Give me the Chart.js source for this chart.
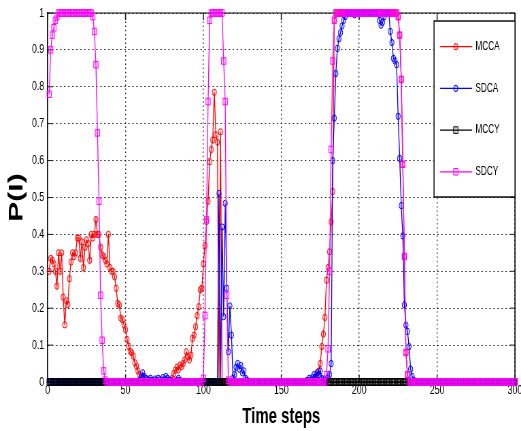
<!DOCTYPE html>
<html><head><meta charset="utf-8">
<script src="https://cdn.jsdelivr.net/npm/chart.js@4/dist/chart.umd.min.js"></script>
<style>
html,body{margin:0;padding:0;background:#fff;overflow:hidden;width:521px;height:431px;}
#wrap{position:absolute;left:0;top:0;width:766px;height:431px;transform:scaleX(0.6802);transform-origin:0 0;}
canvas{display:block}
</style></head><body>
<div id="wrap"><canvas id="c" width="766" height="431"></canvas></div>
<script>
// ---- data (time step t = 1..300) ----
const seriesNames = ['MCCA', 'SDCA', 'MCCY', 'SDCY'];
const xTickLabels = ['0', '50', '100', '150', '200', '250', '300'];
const yTickLabels = ['0', '0.1', '0.2', '0.3', '0.4', '0.5', '0.6', '0.7', '0.8', '0.9', '1'];
const timeSteps = Array.from({length: 300}, (_, i) => i + 1);

const mcca = [
0.30,0.335,0.33,0.32,0.30,0.26,0.35,0.30,0.35,0.23,
0.155,0.22,0.21,0.28,0.325,0.35,0.34,0.35,0.39,0.39,
0.335,0.38,0.31,0.365,0.385,0.375,0.33,0.40,0.39,0.40,
0.44,0.40,0.40,0.365,0.345,0.34,0.33,0.32,0.40,0.31,
0.30,0.30,0.285,0.254,0.213,0.209,0.173,0.169,0.155,0.142,
0.115,0.097,0.083,0.079,0.07,0.052,0.043,0.03,0.02,0.012,
0.007,0.003,0,0,0,0,0,0,0,0,
0,0,0,0,0,0,0,0,0.005,0.01,
0.023,0.032,0.04,0.033,0.046,0.042,0.05,0.06,0.082,0.069,
0.06,0.073,0.118,0.127,0.15,0.18,0.204,0.25,0.254,0.32,
0.37,0.435,0.49,0.597,0.63,0.656,0.785,0.67,0.65,0,
0.678,0,0,0,0,0,0,0,0,0,
0,0,0,0,0,0,0,0,0,0,
0,0,0,0,0,0,0,0,0,0,
0,0,0,0,0,0,0,0,0,0,
0,0,0,0,0,0,0,0,0,0,
0,0,0,0,0,0,0,0,0,0,
0.005,0.01,0.02,0.03,0.05,0.096,0.13,0.175,0.276,0.31,
0.353,0.434,0.516,0.98,1,1,1,1,1,1,
1,1,1,1,1,1,1,1,1,1,
1,1,1,1,1,1,1,1,1,1,
1,1,1,1,1,1,1,1,1,1,
1,1,1,1,0.99,0.94,0.82,0.59,0.34,0.08,
0.02,0,0,0,0,0,0,0,0,0,
0,0,0,0,0,0,0,0,0,0,
0,0,0,0,0,0,0,0,0,0,
0,0,0,0,0,0,0,0,0,0,
0,0,0,0,0,0,0,0,0,0,
0,0,0,0,0,0,0,0,0,0,
0,0,0,0,0,0,0,0,0,0
];

const sdca = [
0,0,0,0,0,0,0,0,0,0,
0,0,0,0,0,0,0,0,0,0,
0,0,0,0,0,0,0,0,0,0,
0,0,0,0,0,0,0,0,0,0,
0,0,0,0,0,0,0,0,0,0,
0,0,0,0,0,0,0,0,0.005,0.012,
0.025,0.015,0.01,0.008,0.005,0.01,0.005,0.003,0.008,0.005,
0.01,0.006,0.004,0.012,0.008,0.015,0.01,0.005,0.003,0.002,
0,0,0.005,0.01,0.004,0,0,0,0,0,
0,0,0,0,0,0,0,0,0,0,
0,0,0,0,0,0,0,0,0,0.511,
0,0.42,0.177,0.484,0.254,0.082,0.206,0.127,0.01,0.02,
0.04,0.05,0.035,0.045,0.025,0.03,0.01,0.005,0,0,
0,0,0,0,0,0,0,0,0,0,
0,0,0,0,0,0,0,0,0,0,
0,0,0,0,0,0,0,0,0,0,
0,0,0,0,0,0.003,0.005,0.01,0.005,0.012,
0.02,0.015,0.025,0.02,0.03,0.01,0.005,0.008,0.005,0.01,
0.02,0.05,0.6,0.715,0.836,0.904,0.93,0.947,0.965,0.98,
0.99,1,1,1,1,1,0.995,1,1,1,
1,1,1,1,1,1,1,1,1,1,
1,1,0.98,0.967,0.975,0.99,1,1,1,0.95,
0.92,0.877,0.87,0.86,0.72,0.606,0.478,0.396,0.209,0.154,
0.137,0.096,0.035,0.015,0.005,0,0,0,0,0,
0,0,0,0,0,0,0,0,0,0,
0,0,0,0,0,0,0,0,0,0,
0,0,0,0,0,0,0,0,0,0,
0,0,0,0,0,0,0,0,0,0,
0,0,0,0,0,0,0,0,0,0,
0,0,0,0,0,0,0,0,0,0
];

const mccy = [
0,0,0,0,0,0,0,0,0,0, 0,0,0,0,0,0,0,0,0,0, 0,0,0,0,0,0,0,0,0,0,
0,0,0,0,0,0,0,0,0,0, 0,0,0,0,0,0,0,0,0,0, 0,0,0,0,0,0,0,0,0,0,
0,0,0,0,0,0,0,0,0,0, 0,0,0,0,0,0,0,0,0,0, 0,0,0,0,0,0,0,0,0,0,
0,0,0,0,0,0,0,0,0,0, 0,0,0,0,0,0,0,0,0,0, 0,0,0,0,0,0,0,0,0,0,
0,0,0,0,0,0,0,0,0,0, 0,0,0,0,0,0,0,0,0,0, 0,0,0,0,0,0,0,0,0,0,
0,0,0,0,0,0,0,0,0,0, 0,0,0,0,0,0,0,0,0,0, 0,0,0,0,0,0,0,0,0,0,
0,0,0,0,0,0,0,0,0,0, 0,0,0,0,0,0,0,0,0,0, 0,0,0,0,0,0,0,0,0,0,
0,0,0,0,0,0,0,0,0,0, 0,0,0,0,0,0,0,0,0,0, 0,0,0,0,0,0,0,0,0,0,
0,0,0,0,0,0,0,0,0,0, 0,0,0,0,0,0,0,0,0,0, 0,0,0,0,0,0,0,0,0,0,
0,0,0,0,0,0,0,0,0,0, 0,0,0,0,0,0,0,0,0,0, 0,0,0,0,0,0,0,0,0,0
];

const sdcy = [
0.78,0.90,0.94,0.96,0.98,0.99,1,1,1,1,
1,1,1,1,1,1,1,1,1,1,
1,1,1,1,1,1,1,1,0.99,0.95,
0.86,0.675,0.49,0.235,0.113,0.03,0.005,0,0,0,
0,0,0,0,0,0,0,0,0,0,
0,0,0,0,0,0,0,0,0,0,
0,0,0,0,0,0,0,0,0,0,
0,0,0,0,0,0,0,0,0,0,
0,0,0,0,0,0,0,0,0,0,
0,0,0,0,0,0,0,0,0,0.01,
0.18,0.44,0.76,0.98,1,1,1,1,1,1,
1,1,0.87,0.76,0.235,0.005,0,0,0,0,
0,0,0,0,0,0,0,0,0,0,
0,0,0,0,0,0,0,0,0,0,
0,0,0,0,0,0,0,0,0,0,
0,0,0,0,0,0,0,0,0,0,
0,0,0,0,0,0,0,0,0,0,
0,0,0,0,0,0,0,0,0.02,0.09,
0.30,0.63,0.87,0.98,1,1,1,1,1,1,
1,1,1,1,1,1,1,1,1,1,
1,1,1,1,1,1,1,1,1,1,
1,1,1,1,1,1,1,1,1,1,
1,1,1,1,0.99,0.94,0.82,0.59,0.34,0.08,
0.02,0,0,0,0,0,0,0,0,0,
0,0,0,0,0,0,0,0,0,0,
0,0,0,0,0,0,0,0,0,0,
0,0,0,0,0,0,0,0,0,0,
0,0,0,0,0,0,0,0,0,0,
0,0,0,0,0,0,0,0,0,0,
0,0,0,0,0,0,0,0,0,0
];

const FONT = "'Liberation Sans', Arial, sans-serif";
const toPts = vals => timeSteps.map((t, i) => ({x: t, y: vals[i]}));

function makeDs(label, vals, color, fill, style, radius, order) {
  return {
    label, data: toPts(vals), borderColor: color, backgroundColor: fill,
    pointBackgroundColor: fill, pointBorderColor: color, pointStyle: style,
    pointRadius: radius, pointBorderWidth: 1, borderWidth: 1.3,
    tension: 0, clip: false, order
  };
}

const frameTicks = {
  id: 'frameTicks',
  beforeDatasetsDraw(chart) {
    const {ctx, chartArea: a, scales: {x, y}} = chart;
    ctx.save();
    ctx.strokeStyle = '#000';
    ctx.lineWidth = 1;
    ctx.beginPath(); ctx.moveTo(a.left, a.top); ctx.lineTo(a.right, a.top); ctx.stroke();
    ctx.lineWidth = 1.5;
    ctx.beginPath(); ctx.moveTo(a.right, a.top); ctx.lineTo(a.right, a.bottom); ctx.stroke();
    ctx.strokeStyle = '#222';
    x.ticks.forEach(t => {
      const px = x.getPixelForValue(t.value);
      ctx.beginPath();
      ctx.moveTo(px, a.bottom); ctx.lineTo(px, a.bottom - 7);
      ctx.moveTo(px, a.top); ctx.lineTo(px, a.top + 7);
      ctx.stroke();
    });
    ctx.lineWidth = 1;
    y.ticks.forEach(t => {
      const py = y.getPixelForValue(t.value);
      ctx.beginPath();
      ctx.moveTo(a.left, py); ctx.lineTo(a.left + 8, py);
      ctx.moveTo(a.right, py); ctx.lineTo(a.right - 8, py);
      ctx.stroke();
    });
    ctx.restore();
  }
};

const boxLegend = {
  id: 'boxLegend',
  afterDatasetsDraw(chart) {
    const {ctx, chartArea: a} = chart;
    const w = 119, h = 176;
    const x0 = a.right - w, y0 = a.top + 8;
    ctx.save();
    ctx.fillStyle = '#fff';
    ctx.fillRect(x0, y0, w, h);
    ctx.lineWidth = 1.4; ctx.strokeStyle = '#000';
    ctx.strokeRect(x0, y0, w, h);
    chart.data.datasets.forEach((ds, i) => {
      const cy = y0 + 25.7 + i * 41.7;
      ctx.strokeStyle = ds.borderColor; ctx.lineWidth = 1.3;
      ctx.beginPath(); ctx.moveTo(x0 + 9, cy); ctx.lineTo(x0 + 56, cy); ctx.stroke();
      const mx = x0 + 32;
      ctx.lineWidth = 1;
      ctx.fillStyle = ds.pointBackgroundColor;
      ctx.beginPath();
      if (ds.pointStyle === 'circle') {
        ctx.arc(mx, cy, ds.pointRadius, 0, Math.PI * 2);
      } else {
        const s = ds.pointRadius * Math.SQRT1_2;
        ctx.rect(mx - s, cy - s, 2 * s, 2 * s);
      }
      ctx.fill(); ctx.stroke();
      ctx.fillStyle = '#000';
      ctx.font = '12px ' + FONT;
      ctx.textBaseline = 'middle'; ctx.textAlign = 'left';
      ctx.fillText(ds.label, x0 + 61, cy);
    });
    ctx.restore();
  }
};

new Chart(document.getElementById('c'), {
  type: 'line',
  data: {
    datasets: [
      makeDs(seriesNames[0], mcca, '#ff0000', 'rgba(255,0,0,0.15)', 'circle', 3.2, 3),
      makeDs(seriesNames[1], sdca, '#0000ff', 'rgba(0,0,255,0.15)', 'circle', 3.2, 2),
      makeDs(seriesNames[2], mccy, '#000000', 'rgba(0,0,0,0.15)', 'rect', 4.6, 1),
      makeDs(seriesNames[3], sdcy, '#ff00ff', 'rgba(255,0,255,0.15)', 'rect', 4.6, 0)
    ]
  },
  options: {
    responsive: false,
    animation: false,
    devicePixelRatio: 1,
    layout: {padding: {left: 0, right: 8.9, top: 13, bottom: 0}},
    plugins: {legend: {display: false}, tooltip: {enabled: false}},
    scales: {
      x: {
        type: 'linear', min: 0, max: 300,
        ticks: {stepSize: 50, autoSkip: false, maxRotation: 0, padding: 1, color: '#000',
                font: {family: FONT, size: 13}, callback: (v, i) => xTickLabels[i]},
        grid: {color: '#333', lineWidth: 1.4, drawTicks: false},
        border: {display: true, color: '#000', width: 1, dash: [1.5, 2.7]},
        title: {display: true, text: 'Time steps', color: '#000',
                font: {family: FONT, size: 22, weight: 'bold'}, padding: {top: 0, bottom: 1}},
        afterFit: s => { s.height = 49; s.paddingLeft = 0; s.paddingRight = 0; }
      },
      y: {
        type: 'linear', min: 0, max: 1,
        ticks: {stepSize: 0.1, padding: 5, color: '#000',
                font: {family: FONT, size: 13}, callback: (v, i) => yTickLabels[i]},
        grid: {color: '#333', lineWidth: 1, drawTicks: false},
        border: {display: true, color: '#000', width: 1.5, dash: [2.2, 3.7]},
        title: {display: true, text: 'P(I)', color: '#000',
                font: {family: FONT, size: 30, weight: 'bold'}, padding: {top: 7, bottom: 0}},
        afterFit: s => { s.width = 70; s.paddingTop = 0; s.paddingBottom = 0; }
      }
    }
  },
  plugins: [frameTicks, boxLegend]
});
</script></body></html>
